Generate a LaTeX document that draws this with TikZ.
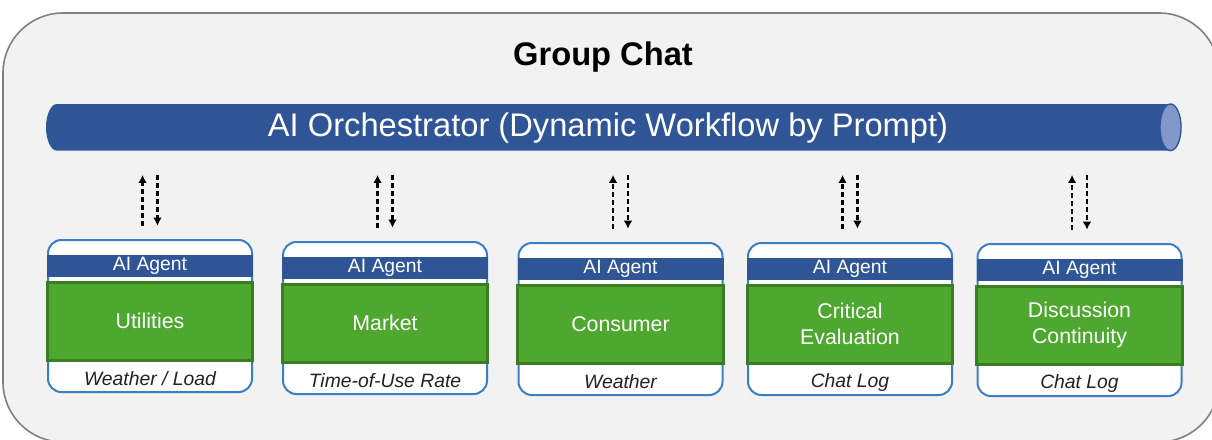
\documentclass[tikz,border=0pt]{standalone}
\usepackage{fontspec}
\setmainfont{Liberation Sans}
\usetikzlibrary{arrows.meta}

\definecolor{panelgray}{HTML}{F2F2F2}
\definecolor{panelline}{HTML}{808080}
\definecolor{navy}{HTML}{2F5597}
\definecolor{pipeend}{HTML}{8198C8}
\definecolor{cardline}{HTML}{3A7FC4}
\definecolor{leaf}{HTML}{4EA72E}
\definecolor{leafdark}{HTML}{3B7D22}
\definecolor{srcink}{HTML}{222222}

\tikzset{
  card/.style={draw=cardline, line width=1.5pt, fill=white, rounded corners=10pt,
    minimum width=153pt, minimum height=114pt, inner sep=0pt},
  agentbar/.style={fill=navy, text=white, minimum width=154.5pt, minimum height=16.5pt,
    inner sep=0pt, font=\fontsize{14.5}{16}\selectfont},
  rolebox/.style={fill=leaf, draw=leafdark, line width=2.25pt, text=white,
    minimum width=154pt, minimum height=58.5pt, inner sep=0pt, align=center,
    font=\fontsize{16}{19.5}\selectfont},
  srctext/.style={text=srcink, inner sep=0pt, font=\fontsize{14.5}{16}\itshape\selectfont},
  sig/.style={draw=black, line width=1.9pt, dash pattern=on 3.8pt off 2.2pt,
    -{Latex[length=6pt,width=6.5pt]}},
}

% one agent card: id, centre x, top y, role text, data source text
\newcommand\agentcard[5]{%
  \node[card] (c#1) at (#2,#3+77) {};
  \node[agentbar] (h#1) at (#2,#3+27) {AI Agent};
  \node[rolebox] (r#1) at (#2,#3+82) {#4};
  \node[srctext] (s#1) at (#2,#3+140) {#5};
  \draw[sig, shorten <=10pt, shorten >=18pt]
    ([xshift=-5.6pt]c#1.north) -- ([xshift=-5.6pt]c#1.north |- pipe.south);
  \draw[sig, shorten <=18pt, shorten >=10pt]
    ([xshift=5.6pt]c#1.north |- pipe.south) -- ([xshift=5.6pt]c#1.north);
}

\begin{document}
\begin{tikzpicture}[x=0.75pt, y=-0.75pt]
  \useasboundingbox (0,0) rectangle (1212,439);
  \fill[white] (0,0) rectangle (1212,439);
  \clip (0,0) rectangle (1212,439);

  % group chat panel
  \draw[panelline, line width=1.2pt, fill=panelgray, rounded corners=45pt]
    (3,13) rectangle (1219,442);
  \node[font=\fontsize{24.5}{28}\bfseries\selectfont] (title) at (603,57) {Group Chat};

  % orchestrator pipe: a horizontal cylinder with its end face on the right
  \node[minimum width=851pt, minimum height=35pt, inner sep=0pt] (pipe) at (613.5,127.3) {};
  \fill[navy] (1170.5,104) -- (57,104)
    arc[start angle=90, end angle=270, x radius=8.25pt, y radius=17.5pt]
    -- (1170.5,150.6)
    arc[start angle=-90, end angle=90, x radius=7.9pt, y radius=17.5pt] -- cycle;
  \draw[navy, line width=1pt, fill=pipeend] (1170.5,127.3) ellipse[x radius=7.9pt, y radius=17.5pt];
  \node[text=white, font=\fontsize{24.5}{28}\selectfont] (orch) at (608,128)
    {AI Orchestrator (Dynamic Workflow by Prompt)};

  % agents
  \agentcard{1}{150}{239}{Utilities}{Weather / Load}
  \agentcard{2}{385}{241}{Market}{Time-of-Use Rate}
  \agentcard{3}{620.5}{242}{Consumer}{Weather}
  \agentcard{4}{850}{242}{Critical\\Evaluation}{Chat Log}
  \agentcard{5}{1079.5}{243}{Discussion\\Continuity}{Chat Log}
\end{tikzpicture}
\end{document}
